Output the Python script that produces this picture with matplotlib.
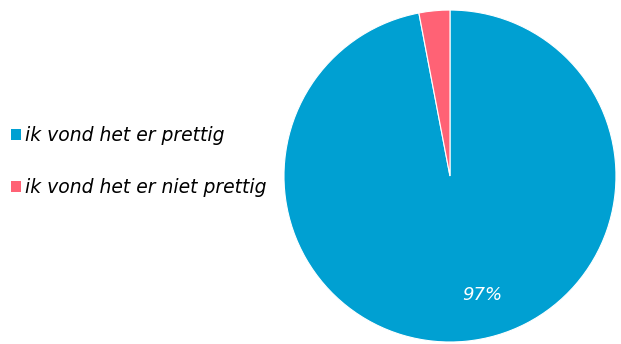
import matplotlib
matplotlib.use("Agg")
import matplotlib.pyplot as plt
from matplotlib.patches import Patch

#
# Data
#
labels = ["ik vond het er prettig", "ik vond het er niet prettig"]
values = [97, 3]
colors = ["#00A0D2", "#FF6275"]

#
# Plot
#
fig = plt.figure(figsize=(6.21, 3.44), dpi=100)
ax = fig.add_axes([0.4573, 0.0058, 0.5346, 0.965])

wedges, texts, autotexts = ax.pie(
    values, colors=colors, startangle=90, counterclock=False,
    autopct="%d%%", pctdistance=0.74,
    wedgeprops={"edgecolor": "white", "linewidth": 0.8},
    textprops={"color": "white", "fontsize": 13, "fontstyle": "italic"})
ax.set_xlim(-1, 1)
ax.set_ylim(-1, 1)
ax.set_aspect("auto")

# move the big label to where the reference puts it, hide the small one
autotexts[0].set_position((0.193, -0.717))
autotexts[1].set_visible(False)

# Legend
handles = [Patch(facecolor=c, edgecolor="none") for c in colors]
fig.legend(handles, labels, loc="center left", bbox_to_anchor=(0.0, 0.53),
           frameon=False, handlelength=0.5, handleheight=0.5, handletextpad=0.25,
           labelspacing=1.75, borderaxespad=0.2,
           prop={"size": 13.5, "style": "italic"})

fig.savefig("out.png", dpi=100)
